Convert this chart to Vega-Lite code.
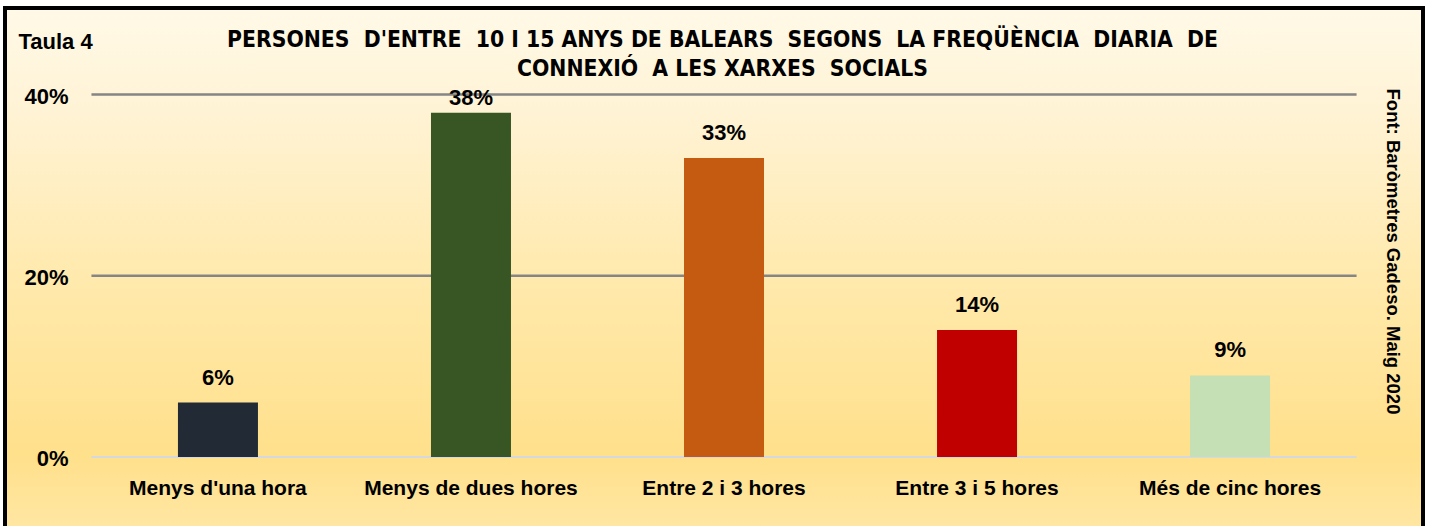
{
  "$schema": "https://vega.github.io/schema/vega-lite/v6.json",
  "width": 1418,
  "height": 518,
  "autosize": {"type": "none"},
  "padding": {"left": 5, "top": 8, "right": 6, "bottom": 0},
  "background": "white",
  "view": {
    "fill": {"gradient": "linear", "x1": 0, "y1": 0, "x2": 0, "y2": 1,
      "stops": [
        {"offset": 0, "color": "#FFF9E7"},
        {"offset": 0.2, "color": "#FFF3D5"},
        {"offset": 0.525, "color": "#FFE9AC"},
        {"offset": 0.863, "color": "#FFE08B"},
        {"offset": 1, "color": "#FFE6A2"}
      ]},
    "stroke": "black",
    "strokeWidth": 4,
    "strokeDash": [1936, 1418, 600]
  },
  "config": {"font": "Liberation Sans"},
  "data": {"values": [
    {"cat": "Menys d'una hora", "value": 0.06},
    {"cat": "Menys de dues hores", "value": 0.38},
    {"cat": "Entre 2 i 3 hores", "value": 0.33},
    {"cat": "Entre 3 i 5 hores", "value": 0.14},
    {"cat": "Més de cinc hores", "value": 0.09}
  ]},
  "resolve": {"axis": {"x": "independent", "y": "independent"}},
  "layer": [
    {
      "data": {"values": [{}]},
      "mark": {"type": "rule", "color": "#858585", "strokeWidth": 2.5, "xOffset": -86.5, "x2Offset": 86.5},
      "encoding": {
        "x": {"datum": "Menys d'una hora", "type": "nominal", "bandPosition": 0, "axis": null},
        "x2": {"datum": "Més de cinc hores", "bandPosition": 1},
        "y": {"datum": 0.4, "type": "quantitative", "axis": null}
      }
    },
    {
      "data": {"values": [{}]},
      "mark": {"type": "rule", "color": "#858585", "strokeWidth": 2.5, "xOffset": -86.5, "x2Offset": 86.5},
      "encoding": {
        "x": {"datum": "Menys d'una hora", "type": "nominal", "bandPosition": 0, "axis": null},
        "x2": {"datum": "Més de cinc hores", "bandPosition": 1},
        "y": {"datum": 0.2, "type": "quantitative", "axis": null}
      }
    },
    {
      "data": {"values": [{}]},
      "mark": {"type": "rule", "color": "#D5D8DE", "strokeWidth": 2, "xOffset": -86.5, "x2Offset": 86.5},
      "encoding": {
        "x": {"datum": "Menys d'una hora", "type": "nominal", "bandPosition": 0, "axis": null},
        "x2": {"datum": "Més de cinc hores", "bandPosition": 1},
        "y": {"datum": 0, "type": "quantitative", "axis": null}
      }
    },
    {
      "mark": {"type": "bar"},
      "encoding": {
        "x": {
          "field": "cat", "type": "nominal", "sort": null,
          "scale": {
            "domain": ["Menys d'una hora", "Menys de dues hores", "Entre 2 i 3 hores", "Entre 3 i 5 hores", "Més de cinc hores"],
            "paddingInner": 0.6838, "paddingOuter": 0.644, "align": 0.5307
          },
          "axis": {
            "orient": "bottom", "offset": -69, "domain": false, "ticks": false, "grid": false,
            "labelPadding": 20, "labelAngle": 0, "labelFontSize": 21, "labelFontWeight": "bold",
            "labelColor": "black", "labelLimit": 0, "title": null
          }
        },
        "y": {
          "field": "value", "type": "quantitative",
          "scale": {"domain": [-0.07614, 0.49545], "nice": false, "zero": false},
          "axis": {
            "orient": "left", "offset": -63, "values": [0, 0.2, 0.4], "format": ".0%",
            "domain": false, "ticks": false, "grid": false, "labelPadding": 0,
            "labelFontSize": 22, "labelFontWeight": "bold", "labelColor": "black",
            "labelBaseline": "middle", "labelOffset": 2,
            "title": "Taula 4", "titleAngle": 0, "titleX": -50, "titleY": 40,
            "titleAlign": "left", "titleBaseline": "alphabetic", "titleFontSize": 22,
            "titleFontWeight": "bold", "titleColor": "black"
          }
        },
        "y2": {"datum": 0},
        "color": {
          "field": "cat", "type": "nominal",
          "scale": {
            "domain": ["Menys d'una hora", "Menys de dues hores", "Entre 2 i 3 hores", "Entre 3 i 5 hores", "Més de cinc hores"],
            "range": ["#222A35", "#375623", "#C55A11", "#C00000", "#C5E0B4"]
          },
          "legend": null
        }
      }
    },
    {
      "mark": {"type": "text", "baseline": "bottom", "dy": {"expr": "datum.value > 0.35 ? -3 : -13"},
        "fontSize": 22, "fontWeight": "bold", "color": "black"},
      "encoding": {
        "x": {
          "field": "cat", "type": "nominal", "sort": null,
          "axis": {
            "orient": "top", "domain": false, "ticks": false, "labels": false, "grid": false,
            "title": ["PERSONES\u00a0 D'ENTRE\u00a0 10 I 15 ANYS DE BALEARS\u00a0 SEGONS\u00a0 LA FREQÜÈNCIA\u00a0 DIARIA\u00a0 DE", "CONNEXIÓ\u00a0 A LES XARXES\u00a0 SOCIALS"],
            "titleX": 717, "titleY": 38, "titleAlign": "center", "titleBaseline": "alphabetic",
            "titleFont": "DejaVu Sans Condensed, Liberation Sans", "titleFontSize": 22.7, "titleFontWeight": "bold",
            "titleColor": "black", "titleLineHeight": 29, "titleLimit": 0
          }
        },
        "y": {
          "field": "value", "type": "quantitative",
          "axis": {
            "orient": "right", "domain": false, "ticks": false, "labels": false, "grid": false,
            "title": "Font: Baròmetres Gadeso.  Maig 2020", "titleAngle": 90,
            "titleX": -31, "titleY": 243, "titleAlign": "center", "titleBaseline": "middle",
            "titleFontSize": 18.5, "titleFontWeight": "bold", "titleColor": "black", "titleLimit": 0
          }
        },
        "text": {"field": "value", "type": "quantitative", "format": ".0%"}
      }
    }
  ]
}
